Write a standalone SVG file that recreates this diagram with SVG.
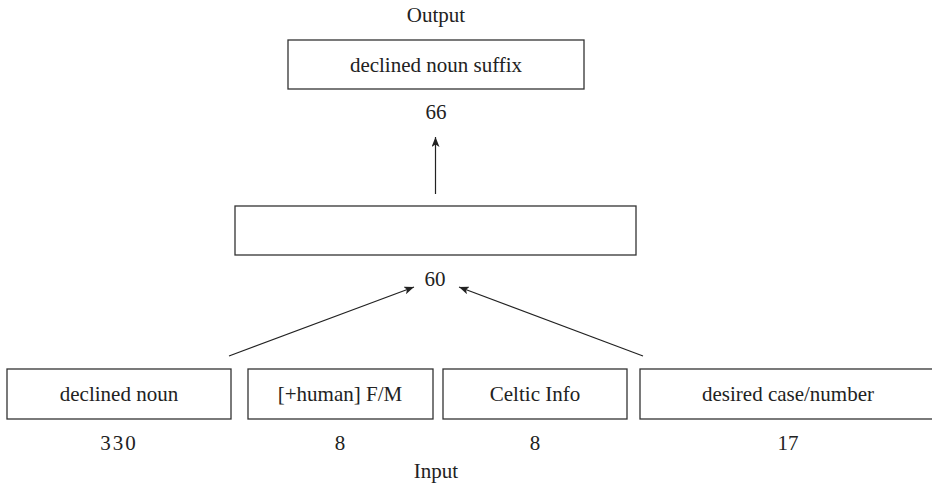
<svg xmlns="http://www.w3.org/2000/svg" width="932" height="487" viewBox="0 0 932 487">
<style>
.box{fill:#fff;stroke:#333;stroke-width:1.3}
.t{font-family:"Liberation Serif","Times New Roman",serif;font-size:21px;fill:#222;text-anchor:middle}
.c{stroke:#222;stroke-width:1.2;fill:none;marker-end:url(#ah)}
</style>
<defs>
<marker id="ah" viewBox="0 0 10 8" refX="10" refY="4" markerWidth="10" markerHeight="8" markerUnits="userSpaceOnUse" orient="auto">
<path d="M0,0 L10,4 L0,8 L2.5,4 Z" fill="#222"/>
</marker>
</defs>
<rect width="932" height="487" fill="#fff"/>
<text class="t" x="436" y="22">Output</text>
<text class="t" x="436" y="478">Input</text>
<g id="output">
<rect class="box" x="288" y="40" width="296" height="49"/>
<text class="t" x="436" y="72">declined noun suffix</text>
<text class="t" x="436" y="119">66</text>
</g>
<g id="hidden">
<rect class="box" x="235" y="206" width="401" height="49"/>
<text class="t" x="435" y="286">60</text>
</g>
<g id="in1">
<rect class="box" x="7" y="369" width="224" height="50"/>
<text class="t" x="119" y="401">declined noun</text>
<text class="t" x="119" y="450" letter-spacing="2">330</text>
</g>
<g id="in2">
<rect class="box" x="248" y="369" width="185" height="50"/>
<text class="t" x="340" y="401">[+human] F/M</text>
<text class="t" x="340" y="450">8</text>
</g>
<g id="in3">
<rect class="box" x="443" y="369" width="184" height="50"/>
<text class="t" x="535" y="401">Celtic Info</text>
<text class="t" x="535" y="450">8</text>
</g>
<g id="in4">
<rect class="box" x="640" y="369" width="300" height="50"/>
<text class="t" x="788" y="401">desired case/number</text>
<text class="t" x="788" y="450">17</text>
</g>
<g id="connectors">
<line class="c" x1="435.5" y1="194" x2="435.5" y2="137"/>
<line class="c" x1="229" y1="356" x2="414" y2="287"/>
<line class="c" x1="643" y1="356" x2="459" y2="287"/>
</g>
</svg>
